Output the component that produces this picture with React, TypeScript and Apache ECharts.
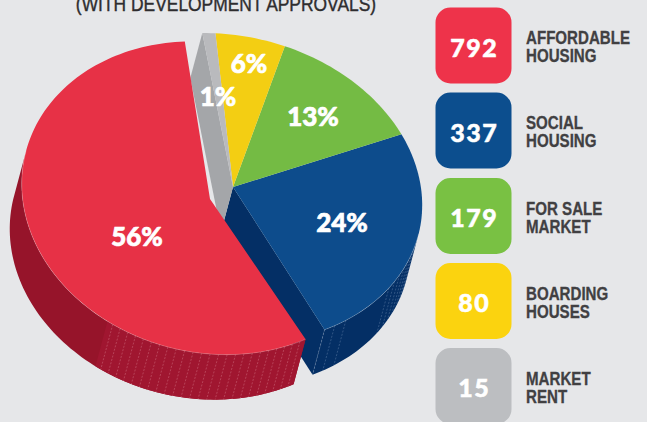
import React, { useEffect, useRef } from "react";
import * as echarts from "echarts";

const categories = ["AFFORDABLE\nHOUSING", "SOCIAL\nHOUSING", "FOR SALE\nMARKET", "BOARDING\nHOUSES", "MARKET\nRENT"];
const counts = [792, 337, 179, 80, 15];
const percentLabels = ["56%", "24%", "13%", "6%", "1%"];
const titleText = "(WITH DEVELOPMENT APPROVALS)";
const drawOrder = [1, 2, 3, 4, 0];

const topColors = ["#e73146", "#0d4c8c", "#74bb44", "#f3ce13", "#b9babd"];
const wallColors = ["#96142a", "#042f65", "", "", "#a4a6a9"];
const swatchColors = ["#ee334a", "#0c4e8e", "#79c143", "#fbd30f", "#bcbec1"];
const labelPos = [[137, 236], [342, 222], [313, 116], [249, 63], [218, 96]];

type Ell = { cx: number; cy: number; rx: number; ry: number; k: number; ax: number; ay: number };
const mainEll: Ell = { cx: 226, cy: 188, rx: 195, ry: 154, k: 0.11, ax: 233, ay: 187 };
const redEll: Ell = { cx: 209.5, cy: 198, rx: 187, ry: 156, k: 0.09, ax: 210, ay: 199 };
const EX = [-12, 45];
const total = counts.reduce((a, b) => a + b, 0);
const START_T = -18;
const RED_T = -16.8;

function pt(e: Ell, tDeg: number): number[] {
  const t = (tDeg * Math.PI) / 180;
  const u = Math.cos(t) / Math.sqrt(1 - e.k);
  const v = Math.sin(t) / Math.sqrt(1 + e.k);
  return [e.cx + (e.rx * (u + v)) / Math.SQRT2, e.cy + (e.ry * (u - v)) / Math.SQRT2];
}
function arc(e: Ell, from: number, to: number): number[][] {
  const n = Math.max(2, Math.ceil(Math.abs(to - from) / 1.5));
  const out: number[][] = [];
  for (let i = 0; i <= n; i++) out.push(pt(e, from + ((to - from) * i) / n));
  return out;
}
const shift = (p: number[]) => [p[0] + EX[0], p[1] + EX[1]];

function renderItem(params: any, api: any) {
  const idx = api.value(1) as number;
  let before = 0;
  for (let i = 1; i < idx; i++) before += counts[i];
  const sweep = (api.value(0) / total) * 360;
  const isRed = idx === 0;
  const t0 = isRed ? RED_T : START_T + (before / total) * 360;
  const t1 = isRed ? t0 - sweep : t0 + sweep;
  const e = isRed ? redEll : mainEll;
  const a = [e.ax, e.ay];
  const children: any[] = [];

  if (idx === 1) {
    const tip = pt(e, t0);
    children.push({ type: "polygon", shape: { points: [a, tip, shift(tip), shift(a)] }, style: { fill: wallColors[1] } });
    const ar = arc(e, t0, 31);
    children.push({ type: "polygon", shape: { points: [...ar, ...ar.slice().reverse().map(shift)] }, style: { fill: wallColors[1] } });
    [-18, -14.5, -10.5, 8, 11, 14, 17, 20, 23, 26].forEach((t) => {
      const p = pt(e, t);
      const q = shift(p);
      children.push({ type: "line", shape: { x1: p[0], y1: p[1], x2: q[0], y2: q[1] }, style: { stroke: "rgba(190,210,235,0.4)", lineWidth: 0.6, lineDash: [2, 1.5] } });
    });
  }
  if (idx === 4) {
    const q = pt(e, t1);
    children.push({ type: "polygon", shape: { points: [a, q, shift(q), shift(a)] }, style: { fill: wallColors[4] } });
  }
  if (isRed) {
    const ar = arc(e, t0, -150);
    children.push({ type: "polygon", shape: { points: [...ar, ...ar.slice().reverse().map(shift)] }, style: { fill: wallColors[0] } });
    const ar2 = arc(e, t0, -80.5);
    children.push({ type: "polygon", shape: { points: [...ar2, ...ar2.slice().reverse().map(shift)] }, style: { fill: "#a01630" } });
    for (let t = t0 - 2; t > -81; t -= 2.6) {
      const p = pt(e, t);
      const q = shift(p);
      children.push({ type: "line", shape: { x1: p[0], y1: p[1], x2: q[0], y2: q[1] }, style: { stroke: "rgba(250,200,205,0.42)", lineWidth: 0.6, lineDash: [2, 1.5] } });
    }
  }
  const top = arc(e, t0, t1);
  children.push({ type: "polygon", shape: { points: [a, ...top] }, style: { fill: topColors[idx] } });
  if (isRed || idx === 1) {
    children.push({
      type: "polyline",
      shape: { points: isRed ? arc(e, t0, -150) : arc(e, t0, 31) },
      style: { stroke: "rgba(255,255,255,0.28)", lineWidth: 0.7, fill: "none" },
    });
  }
  children.push({
    type: "text",
    style: {
      x: labelPos[idx][0], y: labelPos[idx][1], text: percentLabels[idx],
      fill: "#ffffff", stroke: "#ffffff", lineWidth: 0.7, font: '900 26px Lato, "Open Sans", sans-serif', textAlign: "center", textVerticalAlign: "middle",
    },
  });
  return { type: "group", children };
}

const SW_TOPS = [7.5, 92.5, 178, 263, 348];

export default function App() {
  const ref = useRef<HTMLDivElement>(null);
  useEffect(() => {
    const chart = echarts.init(ref.current!, null, { renderer: "svg" });
    const graphics: any[] = [
      {
        type: "text",
        x: 226,
        y: 4,
        scaleX: 0.83,
        style: {
          x: 0, y: 0, text: titleText, fill: "#2e2d2f", stroke: "#2e2d2f", lineWidth: 0.4, textAlign: "center", textVerticalAlign: "middle",
          font: '400 21px "Liberation Sans", sans-serif',
        },
      },
    ];
    categories.forEach((c, i) => {
      graphics.push({
        type: "rect",
        shape: { x: 435.5, y: SW_TOPS[i], width: 76, height: 76, r: 15 },
        style: { fill: swatchColors[i] },
      });
      graphics.push({
        type: "text",
        style: {
          x: 473.5, y: SW_TOPS[i] + 39, text: counts[i].toString().split("").join("\u200a"), fill: "#ffffff", stroke: "#ffffff", lineWidth: 0.5,
          textAlign: "center", textVerticalAlign: "middle", font: '900 25px Lato, "Open Sans", sans-serif',
        },
      });
      graphics.push({
        type: "text",
        x: 526,
        y: SW_TOPS[i] + 40,
        scaleX: 0.84,
        style: {
          x: 0, y: 0, text: c, fill: "#414042", stroke: "#414042", lineWidth: 0.3, textAlign: "left", textVerticalAlign: "middle",
          lineHeight: 18, font: 'bold 18px "Liberation Sans", sans-serif',
        },
      });
    });
    chart.setOption({
      animation: false,
      backgroundColor: "#e6e7e9",
      series: [
        {
          type: "custom",
          coordinateSystem: "none",
          renderItem,
          silent: true,
          data: drawOrder.map((i) => [counts[i], i]),
        },
      ],
      graphic: graphics,
    });
    return () => chart.dispose();
  }, []);
  return <div ref={ref} style={{ position: "fixed", left: 0, top: 0, width: 647, height: 422 }} />;
}
